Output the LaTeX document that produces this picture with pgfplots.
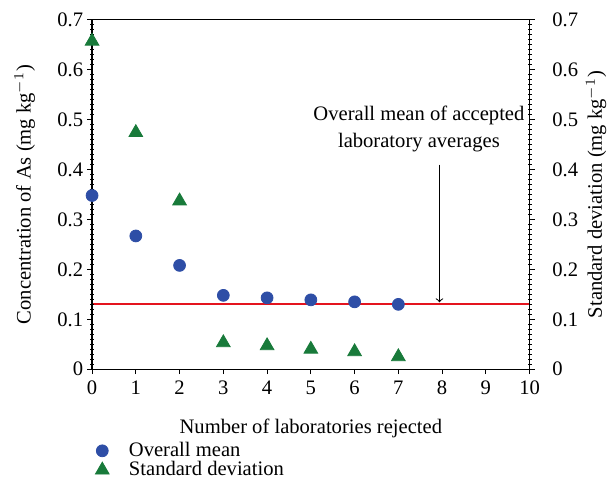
\documentclass[border=0pt]{standalone}
\usepackage{pgfplots}
\pgfplotsset{compat=1.18}
\usepackage{fontspec}
\setmainfont{Liberation Serif}
\definecolor{mblue}{RGB}{46,78,166}
\definecolor{mgreen}{RGB}{24,122,58}
\definecolor{mred}{RGB}{228,20,30}
\begin{document}
\begin{tikzpicture}
\pgfplotsset{
  every axis/.append style={font=\fontsize{10.4}{12}\selectfont},
  common/.style={
    scale only axis, width=221pt, height=176.5pt,
    xmin=0, xmax=10, ymin=0, ymax=0.7,
    ytick={0,0.1,...,0.7},
    minor y tick num=9,
    tick align=outside,
    major tick length=2.5pt,
    minor tick length=2pt,
    yticklabel style={/pgf/number format/fixed, /pgf/number format/precision=1},
    /pgf/number format/assume math mode=true,
    tick style={black, line width=0.5pt},
    axis line style={line width=0.6pt},
  }
}
\begin{axis}[
  common,
  axis x line=none,
  axis y line*=right,
  minor y tick style={xshift=-1pt},
  yticklabel style={xshift=5.5pt},
  ylabel={Standard deviation (mg kg$^{-1}$)},
  ylabel style={at={(axis description cs:1.152,0.5)}, anchor=center},
]
\addplot[draw=mred, line width=1pt, mark=none] coordinates {(0,0.13) (10,0.13)};
\end{axis}
\begin{axis}[
  common,
  name=main,
  xtick={0,1,...,10},
  xtick pos=lower,
  ytick pos=left,
  minor y tick style={xshift=1pt},
  yticklabel style={xshift=1.5pt},
  clip=false,
  xlabel={Number of laboratories rejected},
  xlabel style={yshift=-5pt},
  ylabel={Concentration of As (mg kg$^{-1}$)},
  ylabel style={at={(axis description cs:-0.154,0.5)}, anchor=center},
  legend style={at={(axis description cs:0,-0.185)}, xshift=-1.5pt, anchor=north west, draw=none, fill=none,
    font=\fontsize{10.4}{12}\selectfont, row sep=-3pt, column sep=8pt},
  legend cell align=left,
]
\addplot[only marks, mark=*, mark size=3pt, color=mblue] coordinates {
(0,0.348) (1,0.267) (2,0.208) (3,0.148) (4,0.143) (5,0.139) (6,0.135) (7,0.130)};
\addlegendentry{Overall mean}
\addplot[only marks, mark=triangle*, mark size=4pt, color=mgreen] coordinates {
(0,0.657) (1,0.474) (2,0.337) (3,0.053) (4,0.047) (5,0.040) (6,0.035) (7,0.025)};
\addlegendentry{Standard deviation}
\node[align=center, font=\fontsize{10.4}{13.5}\selectfont] at (axis cs:7.47,0.482) {Overall mean of accepted\\laboratory averages};
\draw[->, line width=0.5pt] (axis cs:7.94,0.41) -- (axis cs:7.94,0.134);
\end{axis}
\path ([shift={(-46.5pt,-54.5pt)}]main.south west) rectangle ([shift={(39pt,10pt)}]main.north east);
\end{tikzpicture}
\end{document}
